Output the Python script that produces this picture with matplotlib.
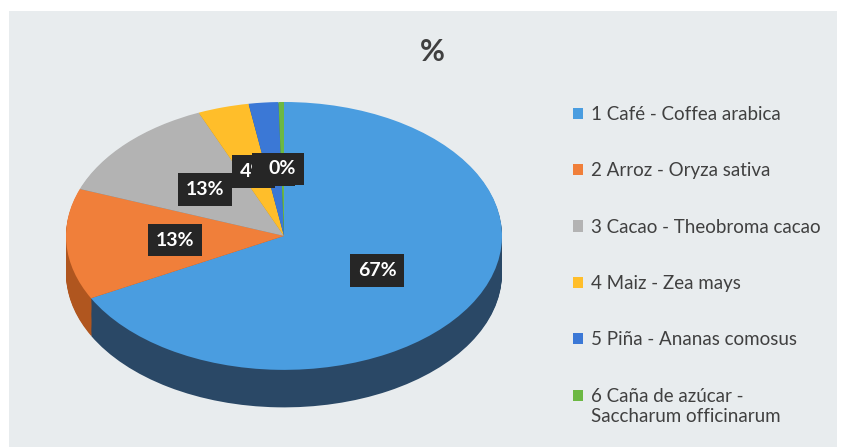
import matplotlib.pyplot as plt
from matplotlib.patches import Rectangle

# datos del grafico
cultivos = ["1 Café - Coffea arabica",
            "2 Arroz - Oryza sativa",
            "3 Cacao - Theobroma cacao",
            "4 Maiz - Zea mays",
            "5 Piña - Ananas comosus",
            "6 Caña de azúcar -\nSaccharum officinarum"]
porcentajes = [67.3, 13.4, 12.9, 3.8, 2.2, 0.4]
colores = ["#4a9de0", "#f07f3a", "#b3b3b3", "#ffbe2a", "#3b78d6", "#6cb843"]
colores_lado = ["#2a4866", "#b0561f", "#7a7a7a", "#b88a1a", "#24508f", "#4a7f2c"]

W, H = 841, 447
fig = plt.figure(figsize=(W / 100, H / 100), dpi=100, facecolor="white")

# fondo del area del grafico
fig.patches.append(Rectangle((9 / W, 0), 828 / W, 1 - 11 / H, transform=fig.transFigure,
                             fc="#e8ecee", ec="none", zorder=-5))

fig.text(432 / W, 1 - 52 / H, "%", ha="center", va="center", fontsize=22,
         fontweight="bold", color="#404040", family="Lato")

# pastel 3d: ejes estirados para que el circulo sea una elipse
espesor = 0.28
ax = fig.add_axes([66 / W, (H - 410) / H, 436 / W, 308 / H])

n_capas = 40
for i in range(n_capas, 0, -1):
    off = espesor * i / n_capas
    ax.pie(porcentajes, colors=colores_lado, startangle=90, counterclock=False,
           center=(0, -off), radius=1, wedgeprops=dict(linewidth=0))

wedges, _, autotexts = ax.pie(porcentajes, colors=colores, startangle=90, counterclock=False,
                              center=(0, 0), radius=1, autopct="%.0f%%", pctdistance=0.5,
                              wedgeprops=dict(linewidth=0))

for t in autotexts:
    t.set_color("white")
    t.set_fontsize(14)
    t.set_fontweight("bold")
    t.set_family("Lato")
    t.set_bbox(dict(boxstyle="square,pad=0.4", fc="#262626", ec="none"))

ax.set_aspect("auto")
ax.set_xlim(-1, 1)
ax.set_ylim(-1 - espesor * 1.07, 1)
ax.set_position([66 / W, (H - 410) / H, 436 / W, 308 / H])
ax.axis("off")

leg = fig.legend(wedges, cultivos, loc="upper left", bbox_to_anchor=(556 / W, 1 - 89 / H),
                 frameon=False, prop=dict(family="Lato", size=13.5), labelcolor="#404040",
                 handlelength=0.55, handleheight=0.55, handletextpad=0.42, labelspacing=2.1)
# el cuadro de la ultima entrada va con la primera linea
h = leg.legend_handles[-1]
h.set_y(h.get_y() + 8.1)

fig.savefig("out.png", dpi=100, facecolor=fig.get_facecolor())
